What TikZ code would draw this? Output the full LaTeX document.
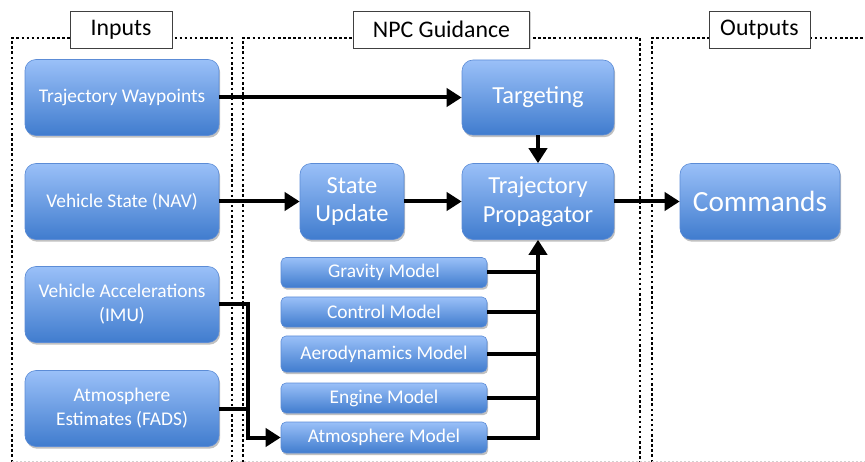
\documentclass[tikz,border=0pt]{standalone}
\usepackage{fontspec}
\setmainfont{Carlito}
\usetikzlibrary{arrows.meta,shadows}

\definecolor{boxtop}{RGB}{154,192,248}
\definecolor{boxbot}{RGB}{64,124,206}
\definecolor{boxline}{RGB}{92,140,214}

\tikzset{
  blk/.style={draw=boxline, line width=0.6pt, rounded corners=11pt,
    top color=boxtop, bottom color=boxbot, text=white, align=center,
    inner sep=0pt,
    drop shadow={shadow xshift=1.2pt, shadow yshift=-2.2pt, opacity=0.35, fill=black!70}},
  inbox/.style={blk, minimum width=194pt, minimum height=76pt,
    font=\fontsize{19.4}{24}\selectfont},
  model/.style={blk, rounded corners=5pt, minimum width=206pt,
    font=\fontsize{19.4}{23}\selectfont},
  core/.style={blk, minimum height=76pt, font=\fontsize{24.5}{28.5}\selectfont},
  panel/.style={line width=2.5pt, dash pattern=on 2.5pt off 2.6pt},
  panelfoot/.style={line width=1pt, black!18, dash pattern=on 2pt off 2pt},
  hdr/.style={draw=black!75, fill=white, line width=0.8pt, minimum height=37pt,
    inner xsep=0pt, font=\fontsize{23.8}{28}\selectfont,
    drop shadow={shadow xshift=1pt, shadow yshift=-1.5pt, opacity=0.3, fill=black!60}},
  flow/.style={line width=4pt, -{Triangle[length=15pt,width=18pt]}},
  bus/.style={line width=4pt},
}

\begin{document}
\begin{tikzpicture}[x=1pt, y=-1pt]
  \useasboundingbox (0,0) rectangle (865,462);

  % dotted panels
  \draw[panel] (12,462) -- (12,38) -- (232,38) -- (232,462);
  \draw[panel] (243,462) -- (243,38) -- (640,38) -- (640,462);
  \draw[panel] (652,462) -- (652,38) -- (866,38);
  \draw[panelfoot] (12,461) -- (865,461);

  % panel headers
  \node[hdr, minimum width=102pt] (hin)  at (121,29.5)   {Inputs};
  \node[hdr, minimum width=176pt] (hnpc) at (441.5,29.5) {NPC Guidance};
  \node[hdr, minimum width=101pt] (hout) at (759.5,29.5) {Outputs};

  % inputs
  \node[inbox] (wp)   at (122,97.5)  {Trajectory Waypoints};
  \node[inbox] (nav)  at (122,201.5) {Vehicle State (NAV)};
  \node[inbox] (imu)  at (122,304.5) {Vehicle Accelerations\\(IMU)};
  \node[inbox] (fads) at (122,408.5) {Atmosphere\\Estimates (FADS)};

  % guidance blocks
  \node[core, minimum width=152pt, minimum height=75pt] (tgt) at (538,97.5) {Targeting};
  \node[core, minimum width=104pt] (su) at (352,201.5) {State\\Update};
  \node[core, minimum width=152pt] (tp) at (538,201.5) {Trajectory\\Propagator};

  % models
  \node[model, minimum height=30pt] (grav) at (384,272.5) {Gravity Model};
  \node[model, minimum height=30pt] (ctrl) at (384,312)   {Control Model};
  \node[model, minimum height=36pt] (aero) at (384,354)   {Aerodynamics Model};
  \node[model, minimum height=30pt] (eng)  at (384,398)   {Engine Model};
  \node[model, minimum height=31pt] (atm)  at (384,437.5) {Atmosphere Model};

  % outputs
  \node[core, minimum width=160pt, font=\fontsize{29.3}{34}\selectfont] (cmd) at (760,201.5) {Commands};

  % flow
  \draw[flow] (wp.east) -- (tgt.west |- wp.east);
  \draw[flow] (tgt.south) -- (tp.north);
  \draw[flow] (nav.east) -- (su.west |- nav.east);
  \draw[flow] (su.east) -- (tp.west |- su.east);
  \draw[flow] (tp.east) -- (cmd.west |- tp.east);

  % model bus into the propagator
  \draw[flow] (atm.east) -| (tp.south);
  \foreach \m in {grav,ctrl,aero,eng}
    \draw[bus] (\m.east) -- (\m.east -| tp.south);

  % sensed inputs feeding the atmosphere model
  \coordinate (join) at (248,437.5);
  \draw[flow] (imu.east) -| (join) -- (atm.west);
  \draw[bus] (fads.east) -- (fads.east -| join);
\end{tikzpicture}
\end{document}
